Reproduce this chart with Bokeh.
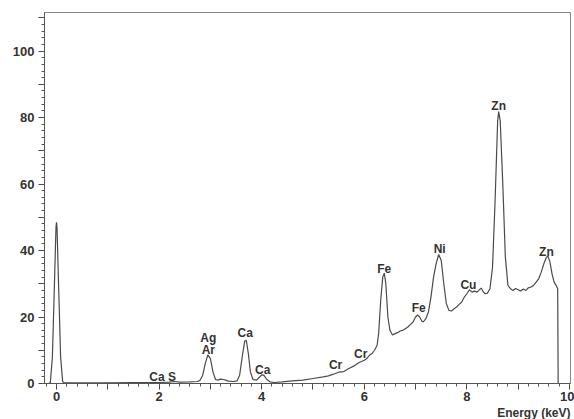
from bokeh.plotting import figure
from bokeh.models import FixedTicker, Title
from bokeh.core.properties import value
from bokeh.embed import file_html
from bokeh.resources import INLINE

# Spectrum (energy in keV, counts)
energy = [-0.23, -0.15, -0.12, -0.08, -0.04, -0.01, 0.0, 0.01, 0.04, 0.08, 0.12, 0.15, 0.3,
          0.5, 1.0, 1.5, 1.8, 2.0, 2.2, 2.3, 2.4, 2.6, 2.75,
          2.8, 2.85, 2.9, 2.95, 3.0, 3.05, 3.1, 3.15, 3.2, 3.25, 3.3, 3.35, 3.45, 3.52,
          3.57, 3.62, 3.67, 3.7, 3.74, 3.78, 3.83, 3.9, 3.95, 4.0, 4.04, 4.1, 4.16, 4.25,
          4.4, 4.6, 4.8, 5.0, 5.2, 5.3, 5.4, 5.5, 5.6, 5.7, 5.8, 5.9, 6.0, 6.05, 6.1, 6.15,
          6.2, 6.25, 6.28, 6.32, 6.36, 6.39, 6.42, 6.46, 6.5, 6.55, 6.6, 6.65, 6.7, 6.75,
          6.8, 6.85, 6.9, 6.95, 7.0, 7.04, 7.08, 7.12, 7.15, 7.2, 7.25, 7.3, 7.35, 7.4,
          7.45, 7.5, 7.55, 7.6, 7.65, 7.7, 7.75, 7.8, 7.85, 7.9, 7.95, 8.0, 8.05, 8.1,
          8.15, 8.2, 8.25, 8.28, 8.32, 8.36, 8.4, 8.45, 8.5, 8.55, 8.6, 8.62, 8.65, 8.7,
          8.75, 8.8, 8.85, 8.9, 8.95, 9.0, 9.05, 9.1, 9.15, 9.2, 9.25, 9.3, 9.35, 9.4,
          9.45, 9.5, 9.55, 9.58, 9.62, 9.66, 9.7, 9.74, 9.77, 9.78]
counts = [0.0, 0.0, 0.3, 8.0, 30.0, 47.0, 48.5, 47.0, 30.0, 8.0, 0.5, 0.2, 0.2,
          0.2, 0.2, 0.3, 0.3, 0.3, 0.4, 0.6, 0.4, 0.5, 0.6,
          1.0, 2.5, 6.0, 8.6, 7.5, 3.5, 1.2, 1.0, 1.3, 1.2, 1.0, 0.7, 0.6, 0.8,
          2.5, 8.0, 12.8, 13.0, 9.0, 3.5, 1.2, 1.0, 1.8, 2.6, 2.5, 1.2, 0.5, 0.3,
          0.5, 0.8, 1.0, 1.5, 2.0, 2.3, 2.8, 3.4, 3.6, 4.5, 5.3, 6.3, 7.0, 7.5, 8.5, 9.0,
          10.0, 11.5, 15.0, 25.0, 32.0, 33.2, 30.0, 20.0, 16.0, 14.6, 15.0, 15.3, 15.8, 16.0,
          16.5, 17.0, 17.8, 18.5, 20.0, 20.6, 20.0, 18.8, 18.5, 19.5, 21.5, 26.0, 32.0, 36.0,
          38.8, 37.0, 30.0, 24.0, 22.0, 21.8, 22.5, 23.0, 23.8, 24.5, 26.0, 27.0, 28.2, 27.5,
          27.8, 27.5, 28.3, 28.7, 27.5, 27.0, 27.2, 28.5, 35.0, 55.0, 79.0, 81.8, 79.0, 60.0,
          38.0, 29.5, 28.5, 28.0, 28.6, 28.2, 27.8, 28.4, 28.0, 28.8, 29.0, 29.5, 30.5, 31.5,
          33.5, 36.0, 38.0, 38.3, 36.5, 33.0, 30.5, 29.5, 28.5, 0.0]

# Peak annotations
peak_names = ["Ca S", "Ag", "Ar", "Ca", "Ca", "Cr", "Cr", "Fe", "Fe", "Ni", "Cu", "Zn", "Zn"]
peak_energy = [2.07, 2.96, 2.96, 3.68, 4.02, 5.44, 5.93, 6.39, 7.06, 7.47, 8.03, 8.62, 9.55]
peak_level = [2.1, 13.7, 10.1, 15.2, 4.2, 5.7, 9.0, 34.3, 22.7, 40.6, 29.6, 83.6, 39.7]

x_major = [0, 1, 2, 3, 4, 5, 6, 7, 8, 9, 10]
x_labels = {0: "0", 2: "2", 4: "4", 6: "6", 8: "8", 10: "10"}
y_major = [0, 10, 20, 30, 40, 50, 60, 70, 80, 90, 100, 110]
y_labels = {0: "0", 20: "20", 40: "40", 60: "60", 80: "80", 100: "100"}

p = figure(width=574, height=419, x_range=(-0.234, 10.02), y_range=(0, 111.6),
           output_backend="svg", toolbar_location=None,
           min_border_left=44, min_border_right=4, min_border_top=12, min_border_bottom=33)

p.line(energy, counts, line_color="#4a4a4a", line_width=1.2)

p.text(x=peak_energy, y=peak_level, text=peak_names, text_align="center",
       text_baseline="middle", text_font=value("Liberation Sans"), text_font_size="12px",
       text_font_style="bold", text_color="#333333")

p.add_layout(Title(text="Energy (keV)", align="right", text_font="Liberation Sans",
                   text_font_size="12px", text_font_style="bold", text_color="#333333",
                   standoff=0, offset=0), "below")

p.grid.visible = False
p.outline_line_color = "#888888"
p.outline_line_width = 1
p.background_fill_color = "white"
p.border_fill_color = "white"

xa = p.xaxis[0]
xa.ticker = FixedTicker(ticks=x_major, minor_ticks=[i * 0.2 for i in range(-1, 51)])
xa.major_label_overrides = {t: x_labels.get(t, "") for t in x_major}
ya = p.yaxis[0]
ya.ticker = FixedTicker(ticks=y_major, minor_ticks=list(range(0, 112, 2)))
ya.major_label_overrides = {t: y_labels.get(t, "") for t in y_major}

for ax in (xa, ya):
    ax.axis_line_color = "#555555"
    ax.major_tick_line_color = "#444444"
    ax.major_tick_line_width = 1
    ax.minor_tick_line_color = "#555555"
    ax.minor_tick_line_width = 1
    ax.major_tick_in = 0
    ax.major_tick_out = 6
    ax.minor_tick_in = 0
    ax.minor_tick_out = 3
    ax.major_label_text_font = "Liberation Sans"
    ax.major_label_text_font_size = "13px"
    ax.major_label_text_font_style = "bold"
    ax.major_label_text_color = "#333333"
xa.major_label_standoff = 2
ya.major_label_standoff = 4

open("out.html", "w").write(file_html(p, INLINE))
